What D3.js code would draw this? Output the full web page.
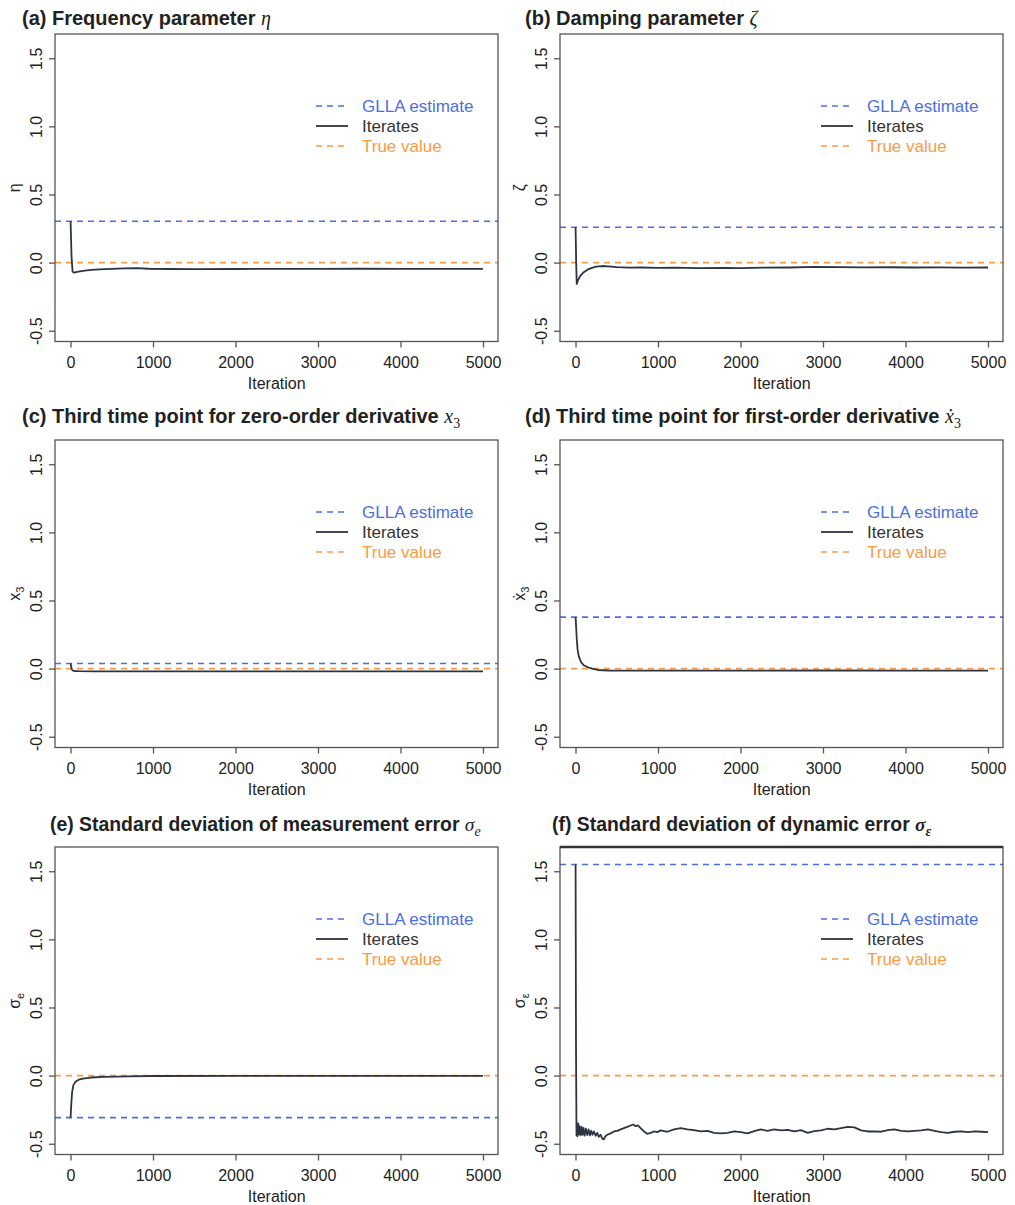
<!DOCTYPE html>
<html>
<head>
<meta charset="utf-8">
<script src="https://cdn.jsdelivr.net/npm/d3@7"></script>
<style>
  body { margin: 0; background: #fff; }
  text { font-family: "Liberation Sans", Arial, sans-serif; }
</style>
</head>
<body>
<svg id="chart" width="1015" height="1205"></svg>
<script>
// ---- data ----
var xTicks = [0, 1000, 2000, 3000, 4000, 5000];
var yTicks = [-0.5, 0, 0.5, 1.0, 1.5];
var gllaValues = [0.304, 0.26, 0.037, 0.378, -0.308, 1.55];
var trueValues = [0, 0, 0, 0, 0, 0];
var legendLabels = ["GLLA estimate", "Iterates", "True value"];

var titleTexts = [
  "(a) Frequency parameter ",
  "(b) Damping parameter ",
  "(c) Third time point for zero-order derivative ",
  "(d) Third time point for first-order derivative ",
  "(e) Standard deviation of measurement error ",
  "(f) Standard deviation of dynamic error "
];
var titleSymbols = ["η", "ζ", "x", "x\u0307", "σ", "σ"];
var symbolSubs = ["", "", "3", "3", "e", "ε"];

// [iteration, value]
var iterEta = [[1, 0.304], [12, 0.05], [25, -0.066], [40, -0.074], [80, -0.068], [150, -0.061],
  [250, -0.054], [350, -0.05], [500, -0.046], [650, -0.042], [800, -0.041], [950, -0.045],
  [1200, -0.047], [1500, -0.048], [2000, -0.047], [2500, -0.046], [3000, -0.046],
  [3500, -0.045], [4000, -0.046], [4500, -0.046], [5000, -0.046]];
var iterZeta = [[1, 0.26], [8, 0.0], [15, -0.156], [30, -0.13], [60, -0.095], [100, -0.07],
  [150, -0.05], [200, -0.038], [250, -0.03], [320, -0.025], [400, -0.028], [500, -0.033],
  [650, -0.037], [800, -0.036], [1000, -0.038], [1200, -0.037], [1500, -0.04], [1800, -0.038],
  [2000, -0.04], [2300, -0.037], [2600, -0.036], [2900, -0.032], [3200, -0.033], [3500, -0.035],
  [3800, -0.034], [4100, -0.036], [4400, -0.035], [4700, -0.037], [5000, -0.036]];
var iterX3 = [[1, 0.037], [15, -0.005], [30, -0.014], [60, -0.018], [100, -0.019], [300, -0.02],
  [1000, -0.02], [2000, -0.02], [3000, -0.02], [4000, -0.02], [5000, -0.02]];
var iterDx3 = [[1, 0.378], [8, 0.3], [15, 0.22], [25, 0.14], [40, 0.09], [65, 0.05], [100, 0.025],
  [150, 0.01], [200, 0.0], [270, -0.01], [400, -0.014], [700, -0.015], [1000, -0.015],
  [2000, -0.015], [3000, -0.014], [4000, -0.015], [5000, -0.015]];
var iterSigmaE = [[1, -0.308], [10, -0.2], [20, -0.12], [35, -0.07], [60, -0.045], [100, -0.03],
  [150, -0.022], [250, -0.014], [400, -0.009], [700, -0.005], [1000, -0.003], [2000, -0.002],
  [3000, -0.002], [4000, -0.002], [5000, -0.002]];
var iterSigmaEps = [[1, 1.55], [6, 0.22], [12, -0.44], [16, -0.359], [24, -0.444], [32, -0.351],
  [40, -0.432], [49, -0.371], [61, -0.439], [73, -0.376], [85, -0.434], [97, -0.383],
  [109, -0.441], [126, -0.39], [142, -0.437], [158, -0.395], [174, -0.439], [190, -0.405],
  [206, -0.434], [223, -0.41], [243, -0.441], [263, -0.42], [283, -0.449], [304, -0.434],
  [324, -0.463], [344, -0.468], [364, -0.444], [385, -0.434], [425, -0.424], [466, -0.41],
  [506, -0.405], [547, -0.395], [587, -0.385], [628, -0.376], [668, -0.366], [700, -0.359],
  [729, -0.371], [757, -0.366], [789, -0.385], [830, -0.41], [870, -0.427], [911, -0.42],
  [951, -0.41], [992, -0.415], [1032, -0.402], [1073, -0.407], [1113, -0.412], [1194, -0.395],
  [1275, -0.385], [1356, -0.395], [1437, -0.4], [1518, -0.41], [1599, -0.405], [1680, -0.42],
  [1761, -0.424], [1842, -0.42], [1923, -0.41], [2004, -0.415], [2085, -0.424], [2166, -0.407],
  [2247, -0.395], [2328, -0.405], [2409, -0.395], [2490, -0.402], [2571, -0.398], [2652, -0.41],
  [2733, -0.4], [2814, -0.42], [2895, -0.407], [2976, -0.402], [3057, -0.39], [3138, -0.395],
  [3219, -0.385], [3300, -0.376], [3381, -0.38], [3462, -0.402], [3543, -0.41], [3623, -0.41],
  [3704, -0.412], [3785, -0.4], [3866, -0.395], [3947, -0.405], [4028, -0.41], [4109, -0.405],
  [4190, -0.402], [4271, -0.395], [4352, -0.405], [4433, -0.415], [4514, -0.42], [4595, -0.412],
  [4676, -0.41], [4757, -0.415], [4838, -0.41], [4919, -0.412], [5000, -0.415]];

var panelSeries = [iterEta, iterZeta, iterX3, iterDx3, iterSigmaE, iterSigmaEps];

// ---- layout ----
var colLeft = [55, 560],
    rowTop = [34, 440, 847],
    titleY = [25, 423, 831],
    titleX = [[22, 525], [22, 525], [50, 552]],
    titleSize = ["20px", "20px", "19.4px"],
    boxW = 443,
    boxH = 307.5;
var xDomain = [-188, 5182],
    yDomain = [-0.579, 1.678];

var blue = "#4a6fe3", orange = "#f99b45", dark = "#2d3340", axisGrey = "#555";

var svg = d3.select("#chart");

function addSymbol(textSel, sym, sub, opts) {
  textSel.append("tspan").text(sym)
    .style("font-family", opts.serif ? "'Liberation Serif', 'DejaVu Serif', serif" : null)
    .style("font-style", opts.italic ? "italic" : null)
    .style("font-weight", opts.weight);
  if (sub) {
    textSel.append("tspan").text(sub)
      .attr("dy", opts.subDy)
      .style("font-size", opts.subSize)
      .style("font-family", opts.serif ? "'Liberation Serif', 'DejaVu Serif', serif" : null)
      .style("font-style", opts.subItalic ? "italic" : null)
      .style("font-weight", opts.weight);
  }
}

panelSeries.forEach(function (series, i) {
  var col = i % 2, row = Math.floor(i / 2);
  var left = colLeft[col], top = rowTop[row];

  var x = d3.scaleLinear().domain(xDomain).range([left, left + boxW]);
  var y = d3.scaleLinear().domain(yDomain).range([top + boxH, top]);

  var g = svg.append("g");

  g.append("clipPath").attr("id", "clip" + i)
    .append("rect").attr("x", left).attr("y", top).attr("width", boxW).attr("height", boxH);

  var plot = g.append("g").attr("clip-path", "url(#clip" + i + ")");

  var line = d3.line().x(function (d) { return x(d[0]); }).y(function (d) { return y(d[1]); });

  plot.append("path")
    .attr("d", line([[xDomain[0], trueValues[i]], [xDomain[1], trueValues[i]]]))
    .attr("stroke", orange).attr("stroke-width", 1.6).attr("stroke-dasharray", "6,5").attr("fill", "none");
  plot.append("path")
    .attr("d", line([[xDomain[0], gllaValues[i]], [xDomain[1], gllaValues[i]]]))
    .attr("stroke", blue).attr("stroke-width", 1.6).attr("stroke-dasharray", "6,5").attr("fill", "none");

  plot.append("path")
    .attr("d", line(series))
    .attr("stroke", dark).attr("stroke-width", 1.8).attr("fill", "none")
    .attr("stroke-linejoin", "round");

  // box
  g.append("rect").attr("x", left).attr("y", top).attr("width", boxW).attr("height", boxH)
    .attr("fill", "none").attr("stroke", axisGrey).attr("stroke-width", 1.3);
  if (i === 5) {
    g.append("line").attr("x1", left).attr("x2", left + boxW).attr("y1", top).attr("y2", top)
      .attr("stroke", "#333").attr("stroke-width", 2.4);
  }

  // axes
  var xAxis = d3.axisBottom(x).tickValues(xTicks).tickSize(6).tickPadding(9)
    .tickFormat(function (d) { return d; });
  var xg = g.append("g").attr("transform", "translate(0," + (top + boxH) + ")").call(xAxis);
  xg.select(".domain").remove();
  xg.selectAll(".tick line").attr("stroke", axisGrey).attr("stroke-width", 1.3);
  xg.selectAll(".tick text").attr("fill", "#222").style("font-size", "16px")
    .style("font-family", "'Liberation Sans', Arial, sans-serif");

  var yAxis = d3.axisLeft(y).tickValues(yTicks).tickSize(6)
    .tickFormat(function (d) { return d.toFixed(1); });
  var yg = g.append("g").attr("transform", "translate(" + left + ",0)").call(yAxis);
  yg.select(".domain").remove();
  yg.selectAll(".tick line").attr("stroke", axisGrey).attr("stroke-width", 1.3);
  yg.selectAll(".tick text").attr("fill", "#222").style("font-size", "16px")
    .style("font-family", "'Liberation Sans', Arial, sans-serif")
    .attr("x", null).attr("dy", null)
    .attr("text-anchor", "middle")
    .attr("transform", "translate(-13,0) rotate(-90)");

  g.append("text").attr("x", (x(0) + x(5000)) / 2).attr("y", top + boxH + 47)
    .attr("text-anchor", "middle").attr("fill", "#222").style("font-size", "16px")
    .text("Iteration");

  // y label
  var yl = g.append("text")
    .attr("transform", "translate(" + (left - 35) + "," + (top + boxH / 2) + ") rotate(-90)")
    .attr("text-anchor", "middle").attr("fill", "#222").style("font-size", "16px");
  addSymbol(yl, titleSymbols[i], symbolSubs[i], { serif: false, italic: false, weight: null,
    subDy: 4, subSize: "11px", subItalic: false });

  // title
  var tt = g.append("text").attr("x", titleX[row][col]).attr("y", titleY[row])
    .attr("fill", "#222").style("font-size", titleSize[row]).style("font-weight", "bold")
    .text(titleTexts[i]);
  addSymbol(tt, titleSymbols[i], symbolSubs[i], { serif: true, italic: true,
    weight: i === 5 ? "bold" : "normal", subDy: 5, subSize: "14px", subItalic: i >= 4 });

  // legend
  var legColors = [blue, dark, orange];
  var legDash = ["6,5", null, "6,5"];
  legendLabels.forEach(function (lab, k) {
    var ly = top + 72 + k * 20;
    g.append("line").attr("x1", left + 261).attr("x2", left + 293).attr("y1", ly).attr("y2", ly)
      .attr("stroke", legColors[k]).attr("stroke-width", k === 1 ? 1.8 : 1.6)
      .attr("stroke-dasharray", legDash[k]);
    g.append("text").attr("x", left + 307).attr("y", ly + 6)
      .attr("fill", k === 1 ? "#333" : legColors[k]).style("font-size", "17px").text(lab);
  });
});
</script>
</body>
</html>
